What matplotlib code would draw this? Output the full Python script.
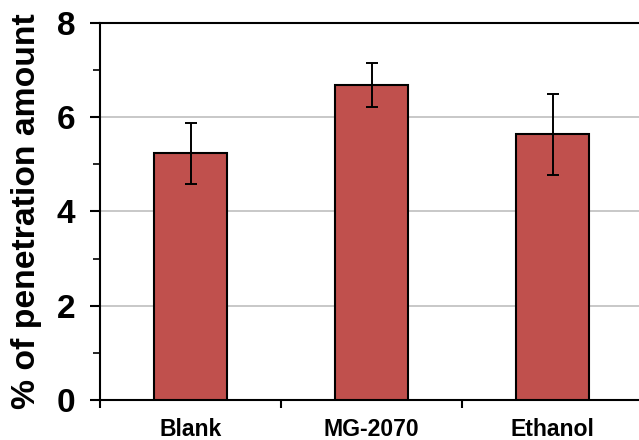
import matplotlib
matplotlib.use("Agg")
import matplotlib.pyplot as plt
from matplotlib.ticker import FixedLocator, NullFormatter

categories = ["Blank", "MG-2070", "Ethanol"]
values = [5.23, 6.68, 5.63]
errors = [0.64, 0.47, 0.86]
yticks = [0, 2, 4, 6, 8]

NF = "Liberation Sans"

fig = plt.figure(figsize=(6.39, 4.40), dpi=100)
ax = fig.add_axes([100/639, 40/440, 543/639, 377.3/440])

x = list(range(len(categories)))
ax.bar(x, values, width=0.40, color="#C0504D", edgecolor="black", linewidth=1.5, zorder=3)
ax.errorbar(x, values, yerr=errors, fmt="none", ecolor="black", elinewidth=1.4,
            capsize=4.3, capthick=1.4, zorder=4)

ax.set_xlim(-0.5, 2.5)
ax.set_ylim(0, 8)
ax.set_yticks(yticks)
ax.yaxis.set_minor_locator(FixedLocator([1, 3, 5, 7]))
ax.grid(axis="y", color="#BFBFBF", linewidth=1.2, zorder=0)
ax.set_axisbelow(True)

ax.xaxis.set_major_locator(FixedLocator([-0.5, 0.5, 1.5, 2.5]))
ax.xaxis.set_major_formatter(NullFormatter())
ax.xaxis.set_minor_locator(FixedLocator(x))
ax.set_xticklabels(categories, minor=True)
ax.tick_params(axis="x", which="major", direction="out", length=6, width=1.5)
ax.tick_params(axis="x", which="minor", length=0, pad=13, labelsize=16.6)
for lab in ax.get_xticklabels(minor=True):
    lab.set_fontfamily(NF)
    lab.set_fontweight("bold")

ax.tick_params(axis="y", which="major", direction="out", length=7, width=1.5, labelsize=24, pad=11)
ax.tick_params(axis="y", which="minor", direction="out", length=5, width=1.2)
for lab in ax.get_yticklabels():
    lab.set_fontfamily(NF)
    lab.set_fontweight("bold")

ax.set_ylabel("% of penetration amount", fontsize=24.3, fontweight="bold",
              family=NF, labelpad=10)

for s in ax.spines.values():
    s.set_linewidth(1.5)
    s.set_color("black")

fig.savefig("out.png", dpi=100)
